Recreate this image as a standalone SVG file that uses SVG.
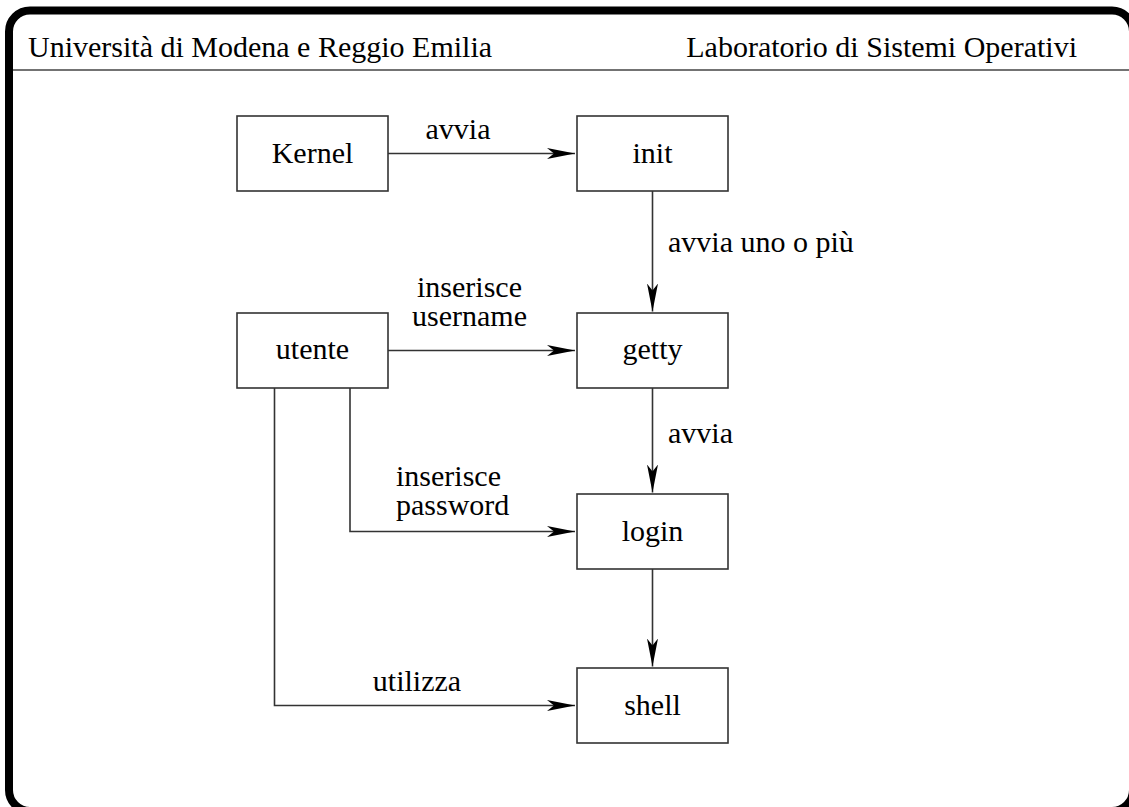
<svg xmlns="http://www.w3.org/2000/svg" width="1129" height="807" viewBox="0 0 1129 807">
<style>
text{font-family:"Liberation Serif","Times New Roman",serif;font-size:30px;fill:#000}
.box{fill:#fff;stroke:#333;stroke-width:1.6}
.c{text-anchor:middle}
.edge{fill:none;stroke:#333;stroke-width:1.6}
</style>
<defs>
<marker id="ah" markerUnits="userSpaceOnUse" markerWidth="30" markerHeight="14" refX="28" refY="6" orient="auto" viewBox="0 0 30 12">
<path d="M28,6 L0,0.5 L7,6 L0,11.5 Z" fill="#000"/>
</marker>
</defs>
<rect x="9" y="10.5" width="1124" height="800.5" rx="21" ry="21" fill="none" stroke="#000" stroke-width="8"/>
<line x1="13" y1="70" x2="1129" y2="70" stroke="#444" stroke-width="1.5"/>
<g id="header">
<text x="28" y="57">Università di Modena e Reggio Emilia</text>
<text x="1077" y="57" text-anchor="end">Laboratorio di Sistemi Operativi</text>
</g>
<g id="connectors">
<line class="edge" x1="388" y1="153.5" x2="575" y2="153.5" marker-end="url(#ah)"/>
<text class="c" x="458" y="139">avvia</text>
<line class="edge" x1="652.5" y1="191" x2="652.5" y2="311.5" marker-end="url(#ah)"/>
<text x="668" y="252">avvia uno o più</text>
<line class="edge" x1="388" y1="350.5" x2="575" y2="350.5" marker-end="url(#ah)"/>
<text class="c" x="469.5" y="297">inserisce</text>
<text class="c" x="469.5" y="326">username</text>
<line class="edge" x1="652.5" y1="388" x2="652.5" y2="492.5" marker-end="url(#ah)"/>
<text x="668" y="443">avvia</text>
<polyline class="edge" points="350,388 350,531.5 575,531.5" marker-end="url(#ah)"/>
<text x="396" y="486">inserisce</text>
<text x="396" y="515">password</text>
<line class="edge" x1="652.5" y1="569" x2="652.5" y2="666.5" marker-end="url(#ah)"/>
<polyline class="edge" points="274.5,388 274.5,705.5 575,705.5" marker-end="url(#ah)"/>
<text class="c" x="417" y="691">utilizza</text>
</g>
<g id="kernel"><rect class="box" x="237" y="116" width="151" height="75"/><text class="c" x="312.5" y="162.5">Kernel</text></g>
<g id="init"><rect class="box" x="577" y="116" width="151" height="75"/><text class="c" x="652.5" y="162.5">init</text></g>
<g id="utente"><rect class="box" x="237" y="313" width="151" height="75"/><text class="c" x="312.5" y="358.5">utente</text></g>
<g id="getty"><rect class="box" x="577" y="313" width="151" height="75"/><text class="c" x="652.5" y="358.5">getty</text></g>
<g id="login"><rect class="box" x="577" y="494" width="151" height="75"/><text class="c" x="652.5" y="540.5">login</text></g>
<g id="shell"><rect class="box" x="577" y="668" width="151" height="75"/><text class="c" x="652.5" y="714.5">shell</text></g>
</svg>
